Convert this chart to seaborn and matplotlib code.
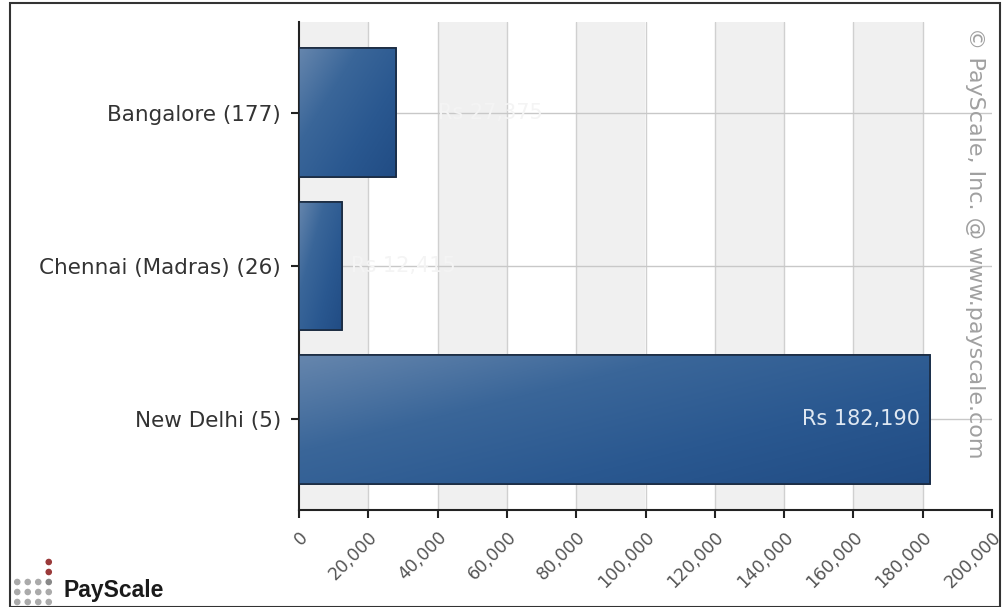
import numpy as np
import pandas as pd
import matplotlib
matplotlib.use("Agg")
import matplotlib.pyplot as plt
import seaborn as sns
from matplotlib.patches import Rectangle

cities = ["Bangalore (177)", "Chennai (Madras) (26)", "New Delhi (5)"]
salaries = [28000, 12400, 182190]
value_labels = ["Rs 27,375", "Rs 12,415", "Rs 182,190"]
xticks = [0, 20000, 40000, 60000, 80000, 100000, 120000, 140000, 160000, 180000, 200000]

df = pd.DataFrame({"city": cities, "salary": salaries})

sns.set_theme(style="white")
plt.rcParams['font.family'] = ['DejaVu Sans']

fig = plt.figure(figsize=(10.03, 6.07), dpi=100)
ax = fig.add_axes([299/1003, 1-510/607, (992-299)/1003, (510-22)/607])

sns.barplot(data=df, x="salary", y="city", orient="h", ax=ax, width=0.84,
            color="#2a5a92", edgecolor="#1a2a40", linewidth=1.2, zorder=3)
bars = [p for p in ax.patches if isinstance(p, Rectangle)]

ax.set_xlim(0, 200000)
ax.set_ylim(2.59, -0.59)

# alternating bands
for i in range(len(xticks) - 1):
    if i % 2 == 0:
        ax.axvspan(xticks[i], xticks[i+1], color="#f0f0f0", zorder=0, lw=0)
for t in xticks[1:-1]:
    ax.axvline(t, color="#d0d0d0", lw=1, zorder=1)
for yy in range(len(cities)):
    ax.axhline(yy, color="#c8c8c8", lw=1, zorder=1)

# gradient overlay on bars
grad = np.linspace(0, 1, 256)
gx, gy = np.meshgrid(grad, grad)
cmap = matplotlib.colors.LinearSegmentedColormap.from_list(
    "g", ["#6686ad", "#3a6699", "#2a5890", "#214c84"])
for p in bars:
    x0, y0 = p.get_x(), p.get_y()
    w, h = p.get_width(), p.get_height()
    z = np.clip(0.55 * gx + 0.45 * gy, 0, 1)
    im = ax.imshow(z, extent=[x0, x0 + w, y0 + h, y0], aspect="auto",
                   cmap=cmap, zorder=3.5, interpolation="bilinear")
    im.set_clip_path(p)
    edge = Rectangle((x0, y0), w, h, fill=False, ec="#1a2a40", lw=1.2, zorder=4)
    ax.add_patch(edge)

ax.set_xlim(0, 200000)
ax.set_ylim(2.59, -0.59)

# value labels
ax.text(salaries[2] - 3000, 2, value_labels[2], color="#dfe8f2", fontsize=15,
        ha="right", va="center", zorder=6)
ax.text(salaries[0] + 12000, 0, value_labels[0], color="#f4f4f4", fontsize=15,
        ha="left", va="center", zorder=2)
ax.text(salaries[1] + 2500, 1, value_labels[1], color="#f4f4f4", fontsize=15,
        ha="left", va="center", zorder=2)

ax.set_xticks(xticks)
ax.set_xticklabels([f"{v:,}" for v in xticks], rotation=45, ha="right",
                   rotation_mode="anchor", color="#555555", fontsize=12.5)
ax.tick_params(axis="x", length=6, width=1.5, color="#222222", pad=7, bottom=True)
ax.tick_params(axis="y", length=6, width=1.5, color="#222222", left=True, labelsize=15.5,
               labelcolor="#333333", pad=7)
ax.set_xlabel("")
ax.set_ylabel("")
for s in ["top", "right"]:
    ax.spines[s].set_visible(False)
for s in ["left", "bottom"]:
    ax.spines[s].set_color("#222222")
    ax.spines[s].set_linewidth(1.5)

# watermark
fig.text(975/1003, 1-243/607, "© PayScale, Inc. @ www.payscale.com", rotation=-90,
         color="#a0a0a0", fontsize=16, ha="center", va="center")

# outer frame
fig.patches.append(Rectangle((10/1003, 0), 990/1003, 1-3/607, transform=fig.transFigure,
                             fill=False, ec="#333333", lw=1.5))

# logo
fig.text(64/1003, 1-590/607, "PayScale", fontsize=16.5, fontweight="bold",
         family=["Liberation Sans"], color="#1a1a1a", ha="left", va="center")
lax = fig.add_axes([12/1003, 0, 42/1003, 50/607])
lax.set_xlim(0, 4)
lax.set_ylim(0, 10)
lax.axis("off")
dx = [0.5, 1.5, 2.5, 3.5, 0.5, 1.5, 2.5, 3.5, 0.5, 1.5, 2.5, 3.5, 3.5, 3.5]
dy = [1, 1, 1, 1, 3, 3, 3, 3, 5, 5, 5, 5, 7, 9]
dc = ["#aaaaaa"] * 11 + ["#888888", "#9a3a3a", "#9a3a3a"]
lax.scatter(dx, dy, s=14, c=dc)

fig.savefig("out.png", dpi=100)
